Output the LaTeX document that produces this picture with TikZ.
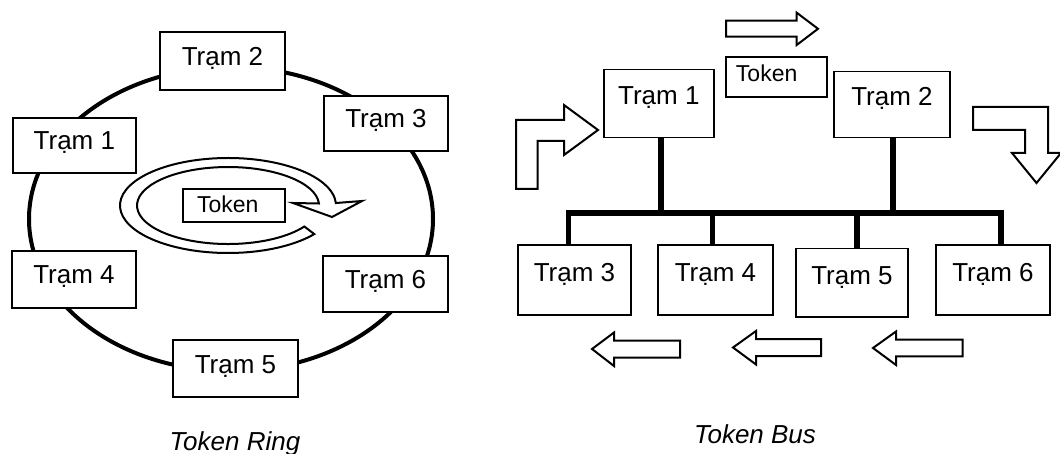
\documentclass[tikz,border=0pt]{standalone}
\usepackage{fontspec}
\setmainfont{Liberation Sans}
\begin{document}
\begin{tikzpicture}[x=1pt,y=-1pt,
  ringline/.style={line width=4pt},
  station/.style={draw, line width=1.8pt, fill=white, inner sep=0pt,
    font=\fontsize{26}{30}\selectfont},
  ringstation/.style={station, minimum width=124pt, minimum height=56pt,
    text height=9pt, text depth=0pt},
  busstation/.style={station, text height=3pt, text depth=0pt},
  tokenbox/.style={draw, line width=1.8pt, fill=white, inner ysep=0pt,
    align=left, font=\fontsize{23}{27}\selectfont, text depth=0pt},
  hollow/.style={draw, line width=2pt, line join=miter, fill=white},
  wire/.style={line width=5.5pt},
  caption/.style={font=\fontsize{26}{30}\selectfont\itshape, anchor=base}
]
\useasboundingbox (0,0) rectangle (1060,454);

% ---------------- Token Ring ----------------
\draw[ringline] (231,219) ellipse [x radius=202, y radius=152];

\node[ringstation, minimum width=125pt, minimum height=58pt] (r2) at (222.5,61) {Trạm 2};
\node[ringstation, minimum height=55pt] (r3) at (386,123.5) {Trạm 3};
\node[ringstation, minimum width=123pt, minimum height=55pt] (r1) at (74.4,145.5) {Trạm 1};
\node[ringstation, minimum height=57pt] (r4) at (74,279.5) {Trạm 4};
\node[ringstation, minimum width=125pt] (r6) at (385.5,284) {Trạm 6};
\node[ringstation, minimum width=125pt, minimum height=57pt] (r5) at (235.5,368.5) {Trạm 5};

% circulating hollow arrow around the token
\draw[hollow] (228,205.5) ++(37:108 and 47.5)
  arc[start angle=37, end angle=357, x radius=108, y radius=47.5]
  -- (362,201) -- (332,217) -- (293,203)
  -- ++(25.9,0.5)
  arc[start angle=357, end angle=33, x radius=91, y radius=38.5]
  -- cycle;

\node[tokenbox, text width=74pt, inner xsep=14pt, minimum height=33pt,
  text height=15pt] (rt) at (234,205.5) {Token};

\node[caption] (cr) at (235,450) {Token Ring};

% ---------------- Token Bus ----------------
\node[busstation, minimum width=110.4pt, minimum height=68pt] (b1) at (658.8,103.5) {Trạm 1};
\node[busstation, minimum width=116pt, minimum height=66pt] (b2) at (892,104.5) {Trạm 2};
\node[busstation, minimum width=113pt, minimum height=69.6pt] (b3) at (574.5,279.8) {Trạm 3};
\node[busstation, minimum width=115pt, minimum height=69.6pt] (b4) at (715.5,279.8) {Trạm 4};
\node[busstation, minimum width=112pt, minimum height=68.4pt] (b5) at (852,282.8) {Trạm 5};
\node[busstation, minimum width=114pt, minimum height=69.6pt] (b6) at (993,279.8) {Trạm 6};

\node[tokenbox, text width=80.7pt, inner xsep=10pt, minimum height=40.6pt,
  text height=9.4pt] (bt) at (776.3,77) {Token};

% bus line and station taps
\coordinate (busL) at (566,213);
\coordinate (busR) at (1003.6,213);
\coordinate (t1) at (661,213);
\coordinate (t2) at (893,213);
\coordinate (t3) at (568.5,213);
\coordinate (t4) at (712.5,213);
\coordinate (t5) at (857,213);
\coordinate (t6) at (1001,213);

\draw[wire] (busL) -- (busR);
\draw[wire] (t1 |- b1.south) -- (t1);
\draw[wire] (t2 |- b2.south) -- (t2);
\draw[wire] (t3) -- (t3 |- b3.north);
\draw[wire] (t4) -- (t4 |- b4.north);
\draw[wire] (t5) -- (t5 |- b5.north);
\draw[wire] (t6) -- (t6 |- b6.north);

% hollow arrows showing the token's path
\draw[hollow] (726,20.7) -- (796.7,20.7) -- (796.7,12.7) -- (818,28.8)
  -- (796.7,45) -- (796.7,36.7) -- (726,36.7) -- cycle;
\draw[hollow] (516,189) -- (516,120) -- (564,120) -- (564,105) -- (598,130)
  -- (564,155) -- (564,141) -- (537.5,141) -- (537.5,189) -- cycle;
\draw[hollow] (973,107) -- (1048,107) -- (1048,153) -- (1061,153) -- (1036.5,183)
  -- (1012,153) -- (1025,153) -- (1025,130) -- (973,130) -- cycle;
\draw[hollow] (680,340.7) -- (614,340.7) -- (614,332.5) -- (592,349)
  -- (614,366) -- (614,357.5) -- (680,357.5) -- cycle;
\draw[hollow] (821,339.2) -- (756,339.2) -- (756,331) -- (733,347.5)
  -- (756,364.5) -- (756,356) -- (821,356) -- cycle;
\draw[hollow] (962.5,339.6) -- (896,339.6) -- (896,331.5) -- (873,348)
  -- (896,365) -- (896,356.4) -- (962.5,356.4) -- cycle;

\node[caption] (cb) at (755,443) {Token Bus};
\end{tikzpicture}
\end{document}
